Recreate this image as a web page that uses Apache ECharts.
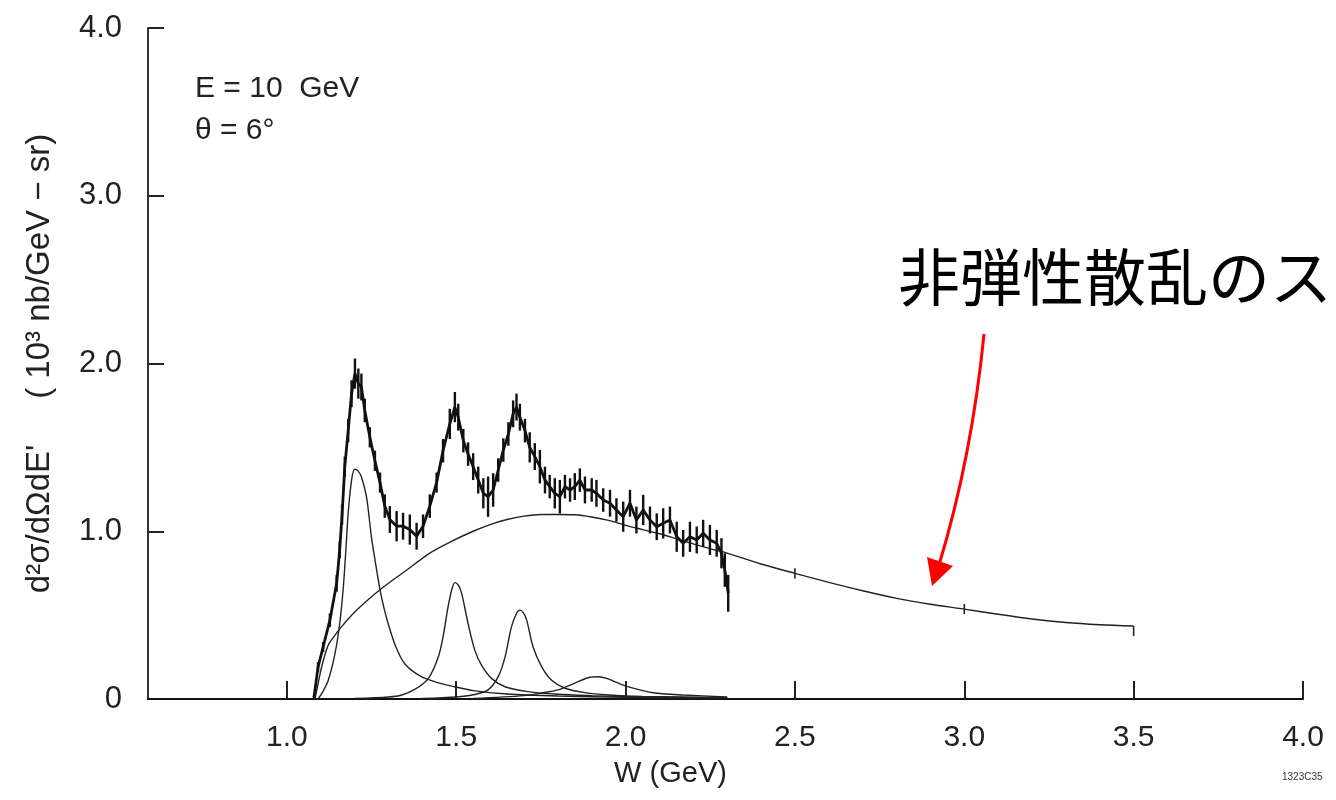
<!DOCTYPE html>
<html>
<head>
<meta charset="utf-8">
<script src="https://cdn.jsdelivr.net/npm/echarts@6/dist/echarts.min.js"></script>
<style>
html,body{margin:0;padding:0;background:#fff;}
#chart{width:1336px;height:800px;}
</style>
</head>
<body>
<div id="chart"></div>
<script>
// ---- Measured spectrum (W in GeV, cross-section, error half-width) ----
const dataW = [1.080,1.092,1.107,1.127,1.147,1.156,1.163,1.171,1.181,1.191,1.201,1.211,1.220,1.230,1.245,1.260,1.275,1.289,1.304,1.324,1.343,1.363,1.383,1.402,1.422,1.442,1.461,1.481,1.496,1.506,1.521,1.535,1.550,1.565,1.580,1.594,1.609,1.624,1.639,1.654,1.668,1.678,1.688,1.703,1.717,1.732,1.747,1.762,1.776,1.791,1.806,1.821,1.836,1.850,1.865,1.880,1.900,1.914,1.934,1.954,1.973,1.993,2.013,2.032,2.052,2.072,2.092,2.111,2.131,2.151,2.170,2.190,2.210,2.229,2.249,2.269,2.283,2.293,2.303];
const dataY = [0.01,0.19,0.31,0.47,0.69,0.89,1.10,1.385,1.60,1.82,1.94,1.88,1.86,1.72,1.56,1.42,1.29,1.15,1.07,1.03,1.03,1.01,0.97,1.03,1.15,1.29,1.48,1.64,1.74,1.68,1.54,1.46,1.385,1.305,1.226,1.206,1.246,1.365,1.484,1.58,1.70,1.74,1.68,1.60,1.50,1.445,1.385,1.305,1.266,1.226,1.206,1.266,1.246,1.266,1.305,1.246,1.246,1.226,1.186,1.167,1.127,1.087,1.167,1.067,1.127,1.067,1.027,1.047,1.067,0.967,0.928,0.967,0.948,0.988,0.948,0.928,0.869,0.769,0.63];
const dataErr = [0.01,0.03,0.03,0.04,0.05,0.05,0.06,0.06,0.07,0.08,0.09,0.09,0.08,0.07,0.06,0.06,0.06,0.07,0.08,0.09,0.08,0.09,0.08,0.07,0.07,0.06,0.07,0.09,0.09,0.08,0.07,0.07,0.08,0.08,0.09,0.12,0.10,0.07,0.07,0.07,0.08,0.08,0.08,0.07,0.09,0.08,0.10,0.08,0.07,0.09,0.10,0.07,0.07,0.08,0.07,0.08,0.07,0.08,0.07,0.08,0.07,0.09,0.08,0.08,0.09,0.08,0.08,0.09,0.08,0.09,0.08,0.09,0.08,0.08,0.09,0.08,0.09,0.10,0.11];

// ---- Non-resonant background fit ----
const bgW = [1.083,1.095,1.105,1.122,1.140,1.161,1.201,1.250,1.300,1.348,1.422,1.486,1.550,1.600,1.650,1.700,1.750,1.800,1.850,1.900,1.950,2.000,2.050,2.100,2.150,2.200,2.250,2.300,2.400,2.500,2.600,2.700,2.800,2.900,3.000,3.100,3.200,3.300,3.400,3.500];
const bgY = [0.00,0.12,0.21,0.32,0.375,0.43,0.52,0.61,0.69,0.76,0.87,0.94,1.00,1.04,1.07,1.09,1.10,1.10,1.098,1.085,1.065,1.035,1.01,0.985,0.955,0.925,0.895,0.87,0.805,0.749,0.695,0.645,0.60,0.565,0.536,0.505,0.477,0.456,0.443,0.435];
const bgErrW = [2.5,3.0,3.5];
const bgErrLo = [0.03,0.03,0.06];
const bgErrHi = [0.03,0.03,0.0];

// ---- Resonance components ----
const res1W = [1.092,1.105,1.122,1.142,1.156,1.166,1.173,1.181,1.191,1.200,1.210,1.220,1.235,1.250,1.265,1.275,1.287,1.299,1.320,1.348,1.397,1.450,1.496,1.550,1.650,1.800,2.000,2.300];
const res1Y = [0.00,0.04,0.11,0.27,0.45,0.65,0.85,1.107,1.305,1.37,1.36,1.325,1.206,0.96,0.77,0.65,0.54,0.45,0.32,0.21,0.133,0.095,0.073,0.050,0.030,0.018,0.010,0.005];
const res2W = [1.200,1.300,1.339,1.380,1.418,1.447,1.462,1.476,1.488,1.496,1.506,1.516,1.535,1.555,1.575,1.604,1.644,1.712,1.800,1.900,2.000,2.300];
const res2Y = [0.003,0.012,0.024,0.06,0.123,0.25,0.38,0.55,0.66,0.694,0.68,0.63,0.45,0.29,0.20,0.123,0.073,0.044,0.028,0.020,0.015,0.008];
const res3W = [1.400,1.500,1.550,1.594,1.624,1.644,1.663,1.678,1.688,1.698,1.708,1.727,1.752,1.781,1.821,1.880,1.950,2.050,2.300];
const res3Y = [0.003,0.012,0.025,0.054,0.133,0.25,0.43,0.51,0.53,0.515,0.47,0.31,0.193,0.113,0.064,0.038,0.024,0.015,0.007];
const res4W = [1.550,1.700,1.750,1.800,1.850,1.895,1.920,1.944,1.993,2.042,2.092,2.170,2.300];
const res4Y = [0.003,0.02,0.035,0.054,0.095,0.13,0.133,0.123,0.083,0.054,0.034,0.024,0.012];

// ---- Axis ticks ----
const xTicks = [1.0,1.5,2.0,2.5,3.0,3.5,4.0];
const yTicks = [0,1,2,3,4];

const zip = (a,b) => a.map((v,i)=>[v,b[i]]);
const LAT = 'Liberation Sans';

const chart = echarts.init(document.getElementById('chart'), null, {renderer:'canvas'});

function errRender(color, width){
  return function(params, api){
    const x = api.value(0), y = api.value(1), lo = api.value(2), hi = api.value(3);
    const p1 = api.coord([x, y - lo]);
    const p2 = api.coord([x, y + hi]);
    return {type:'line', shape:{x1:p1[0], y1:p1[1], x2:p2[0], y2:p2[1]}, style:{stroke:color, lineWidth:width}};
  };
}

const fitStyle = {color:'#222', width:1.4};
function fitSeries(w, y){
  return {type:'line', data: zip(w,y), smooth:0.3, showSymbol:false, symbol:'none',
          lineStyle: fitStyle, itemStyle:{color:'#222'}, z:3, silent:true};
}

const option = {
  animation:false,
  backgroundColor:'#fff',
  grid:{left:148, right:33, top:28, bottom:101},
  xAxis:{
    type:'value', min:0.59, max:4.0,
    axisLine:{show:true, lineStyle:{color:'#111', width:2}},
    axisTick:{show:true, inside:true, length:18, customValues:xTicks, lineStyle:{color:'#222', width:2}},
    axisLabel:{customValues:xTicks, formatter:v=>Number(v).toFixed(1), margin:24,
               fontSize:30, color:'#222', fontFamily:LAT},
    splitLine:{show:false},
    name:'W (GeV)', nameLocation:'middle', nameGap:60,
    nameTextStyle:{fontSize:29, color:'#222', fontFamily:LAT, padding:[0,110,0,0]}
  },
  yAxis:{
    type:'value', min:0, max:4, interval:1,
    axisLine:{show:true, lineStyle:{color:'#333', width:2}},
    axisTick:{show:true, inside:true, length:16, customValues:yTicks.slice(1), lineStyle:{color:'#222', width:2}},
    axisLabel:{formatter:v=> v===0 ? '0' : Number(v).toFixed(1), margin:26,
               fontSize:31, color:'#222', fontFamily:LAT},
    splitLine:{show:false},
    name:"d\u00B2\u03C3/d\u03A9dE'     ( 10\u00B3 nb/GeV \u2212 sr)",
    nameLocation:'middle', nameGap:92, nameRotate:90,
    nameTextStyle:{fontSize:33, color:'#222', fontFamily:LAT}
  },
  series:[
    fitSeries(bgW, bgY),
    fitSeries(res1W, res1Y),
    fitSeries(res2W, res2Y),
    fitSeries(res3W, res3Y),
    fitSeries(res4W, res4Y),
    {type:'custom', renderItem: errRender('#222', 1.6),
     data: bgErrW.map((w,i)=>[w, bgY[bgW.indexOf(w)], bgErrLo[i], bgErrHi[i]]),
     encode:{x:0, y:1}, z:4, silent:true},
    {type:'line', data: zip(dataW, dataY), smooth:false, showSymbol:false, symbol:'none',
     lineStyle:{color:'#111', width:2.8}, itemStyle:{color:'#111'}, z:5, silent:true},
    {type:'custom', renderItem: errRender('#111', 2.4),
     data: dataW.map((w,i)=>[w, dataY[i], dataErr[i], dataErr[i]]),
     encode:{x:0, y:1}, z:6, silent:true}
  ],
  graphic:[
    {type:'text', left:195, top:74, style:{text:'E = 10  GeV', font:'30px "Liberation Sans"', fill:'#222'}},
    {type:'text', left:195, top:116, style:{text:'\u03B8 = 6\u00B0', font:'30px "Liberation Sans"', fill:'#222'}},
    {type:'text', left:898, top:246, style:{text:'非弾性散乱のス', font:'62px "Noto Sans CJK JP"', fill:'#000'}},
    {type:'bezierCurve', shape:{x1:984, y1:334, cpx1:972, cpy1:456, x2:939, y2:565},
     style:{stroke:'#ff0000', lineWidth:3, fill:null}},
    {type:'polygon', shape:{points:[[932,586],[927,557],[953,566]]}, style:{fill:'#ff0000'}},
    {type:'text', left:1282, top:772, style:{text:'1323C35', font:'10px "Liberation Sans"', fill:'#333'}}
  ]
};
chart.setOption(option);
</script>
</body>
</html>
